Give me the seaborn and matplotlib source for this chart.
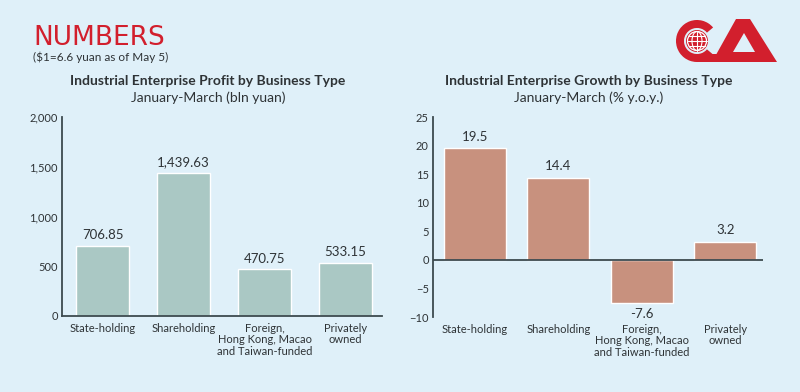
import matplotlib
matplotlib.use("Agg")
import matplotlib.pyplot as plt
import seaborn as sns
import pandas as pd
import numpy as np
from matplotlib.patches import Wedge, Circle, Polygon, Ellipse

# ---- data ----
categories = ["State-holding", "Shareholding",
              "Foreign,\nHong Kong, Macao\nand Taiwan-funded", "Privately\nowned"]
profit = [706.85, 1439.63, 470.75, 533.15]
profit_labels = ["706.85", "1,439.63", "470.75", "533.15"]
growth = [19.5, 14.4, -7.6, 3.2]
growth_labels = ["19.5", "14.4", "-7.6", "3.2"]
profit_ticks = [0, 500, 1000, 1500, 2000]
profit_ticklabels = ["0", "500", "1,000", "1,500", "2,000"]
growth_ticks = [-10, -5, 0, 5, 10, 15, 20, 25]

BG = "#dff0f9"
TEAL = "#aac8c4"
SALMON = "#c8917e"
AXC = "#3d4a4f"
TXT = "#2e3336"
RED = "#d21f2d"

sns.set_theme(style="white")
plt.rcParams["font.family"] = ["Lato", "DejaVu Sans"]

fig = plt.figure(figsize=(8, 3.92), dpi=100, facecolor=BG)
W, H = 800, 392

def px_axes(x0, y_top, x1, y_bot):
    return fig.add_axes([x0 / W, 1 - y_bot / H, (x1 - x0) / W, (y_bot - y_top) / H])

df1 = pd.DataFrame({"cat": categories, "val": profit})
df2 = pd.DataFrame({"cat": categories, "val": growth})

# ---- left chart ----
ax1 = px_axes(62, 117, 382, 316)
sns.barplot(data=df1, x="cat", y="val", hue="cat", palette=[TEAL] * 4,
            legend=False, width=0.65, ax=ax1, saturation=1)
ax1.set_xlim(-0.5, 3.45)
ax1.set_ylim(0, 2000)
ax1.set_yticks(profit_ticks)
ax1.set_yticklabels(profit_ticklabels)
for i, (v, lab) in enumerate(zip(profit, profit_labels)):
    ax1.text(i, v + 45, lab, ha="center", va="bottom", fontsize=9.5, color=TXT)

# ---- right chart ----
ax2 = px_axes(433, 117, 763, 317)
sns.barplot(data=df2, x="cat", y="val", hue="cat", palette=[SALMON] * 4,
            legend=False, width=0.74, ax=ax2, saturation=1)
ax2.set_xlim(-0.5, 3.45)
ax2.set_ylim(-10, 25)
ax2.set_yticks(growth_ticks)
ax2.axhline(0, color=AXC, lw=1.3)
ax2.spines["bottom"].set_visible(False)
for i, (v, lab) in enumerate(zip(growth, growth_labels)):
    if v >= 0:
        ax2.text(i, v + 0.9, lab, ha="center", va="bottom", fontsize=9.5, color=TXT)
    else:
        ax2.text(i, v - 0.8, lab, ha="center", va="top", fontsize=9.5, color=TXT)

for ax in (ax1, ax2):
    ax.set_facecolor("none")
    ax.set_xlabel("")
    ax.set_ylabel("")
    for s in ("top", "right"):
        ax.spines[s].set_visible(False)
    ax.spines["left"].set_color(AXC)
    ax.spines["left"].set_linewidth(1.3)
    ax.spines["bottom"].set_color(AXC)
    ax.spines["bottom"].set_linewidth(1.3)
    ax.tick_params(axis="y", length=2, width=0.8, color=AXC, labelsize=8,
                   labelcolor=TXT, pad=1)
    ax.tick_params(axis="x", length=0, labelsize=8, labelcolor=TXT, pad=5)
    ax.set_xticks(range(len(categories)))
    ax.set_xticklabels(categories, linespacing=1.05)

# ---- header texts ----
fig.text(33 / W, 1 - 45 / H, "NUMBERS", color=RED, fontsize=19,
         family=["Liberation Sans Narrow", "DejaVu Sans"], ha="left", va="baseline")
fig.text(33 / W, 1 - 57 / H, "($1=6.6 yuan as of May 5)", color=TXT, fontsize=8.5,
         ha="left", va="center")
fig.text(208 / W, 1 - 81 / H, "Industrial Enterprise Profit by Business Type",
         color=TXT, fontsize=10, fontweight="bold", ha="center", va="center")
fig.text(208 / W, 1 - 98 / H, "January-March (bln yuan)", color=TXT, fontsize=10,
         ha="center", va="center")
fig.text(589 / W, 1 - 81 / H, "Industrial Enterprise Growth by Business Type",
         color=TXT, fontsize=10, fontweight="bold", ha="center", va="center")
fig.text(589 / W, 1 - 98 / H, "January-March (% y.o.y.)", color=TXT, fontsize=10,
         ha="center", va="center")

# ---- logo ----
lx0, lx1, ly0, ly1 = 660, 785, 14, 68
axl = px_axes(lx0, ly0, lx1, ly1)
axl.set_xlim(lx0, lx1)
axl.set_ylim(ly1, ly0)
axl.set_aspect("equal")
axl.axis("off")
cx, cy, R = 697, 41, 21
axl.add_patch(Wedge((cx, cy), R, 40, 320, width=8, color=RED, lw=0))
axl.add_patch(Polygon([(cx, cy + R - 8), (724, cy + R - 8), (721, cy + R), (cx, cy + R)],
                      closed=True, color=RED, lw=0))
axl.add_patch(Circle((cx, cy), 11, color=RED, lw=0))
axl.add_patch(Circle((cx, cy), 9.5, fill=False, ec="white", lw=0.9))
for dy in (-5, 0, 5):
    hw = np.sqrt(max(9.5 ** 2 - dy ** 2, 0))
    axl.plot([cx - hw, cx + hw], [cy + dy, cy + dy], color="white", lw=0.8)
axl.plot([cx, cx], [cy - 9.5, cy + 9.5], color="white", lw=0.8)
axl.add_patch(Ellipse((cx, cy), 10, 19, fill=False, ec="white", lw=0.8))
# A shape
axl.add_patch(Polygon([(712, 62), (736, 19), (750, 19), (777, 62)], closed=True,
                      color=RED, lw=0))
axl.add_patch(Polygon([(733, 52), (744, 33), (755, 52)], closed=True, color=BG, lw=0))

fig.savefig("out.png", dpi=100, facecolor=BG)
